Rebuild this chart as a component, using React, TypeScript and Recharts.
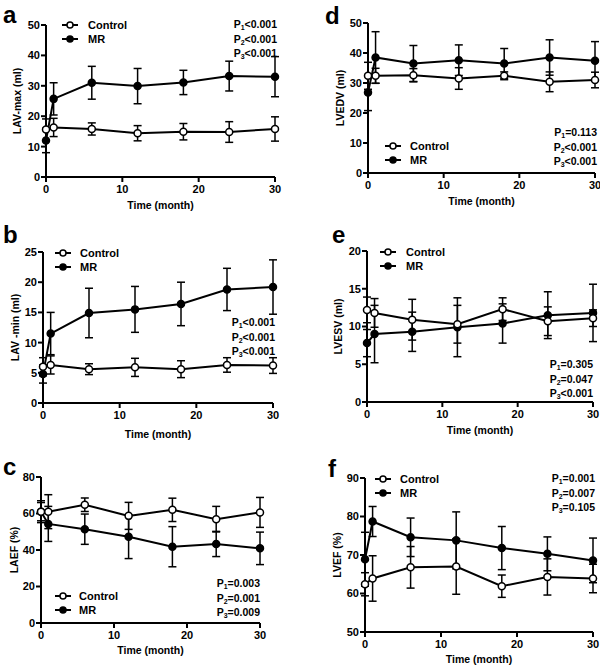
import { LineChart, Line, XAxis, YAxis, ErrorBar } from "recharts";

const MONTHS = [0, 1, 6, 12, 18, 24, 30];

// a: LAV-max
const laMaxCtrl = [15.6, 16.3, 15.8, 14.4, 14.9, 14.8, 15.8];
const laMaxCtrlSd = [3.5, 3.0, 2.0, 2.5, 2.7, 3.4, 4.0];
const laMaxMr = [12.0, 25.7, 31.0, 29.9, 31.1, 33.2, 33.0];
const laMaxMrSd = [4.0, 5.3, 5.4, 5.8, 4.0, 4.9, 6.6];

// b: LAV-min
const laMinCtrl = [6.0, 6.3, 5.6, 5.9, 5.6, 6.3, 6.2];
const laMinCtrlSd = [1.5, 1.5, 0.9, 1.5, 1.4, 1.2, 1.3];
const laMinMr = [4.8, 11.5, 14.9, 15.5, 16.4, 18.8, 19.2];
const laMinMrSd = [1.5, 3.5, 4.1, 3.8, 3.6, 3.5, 4.5];

// c: LAEF
const laefCtrl = [61, 61, 64.8, 58.7, 62, 56.9, 60.6];
const laefCtrlSd = [5, 9.3, 3.7, 7.4, 6.4, 7, 8.2];
const laefMr = [61, 54.3, 51.4, 47.3, 41.8, 43.3, 40.9];
const laefMrSd = [6, 9.6, 8.3, 12, 11, 6.9, 8.9];

// d: LVEDV
const lvedvCtrl = [32.4, 32.4, 32.6, 31.5, 32.4, 30.4, 31.0];
const lvedvCtrlSd = [4.5, 2.5, 2.2, 3.6, 1.3, 3.3, 2.6];
const lvedvMr = [26.8, 38.5, 36.5, 37.6, 36.5, 38.5, 37.4];
const lvedvMrSd = [6, 8.6, 6, 5.1, 5, 5.9, 6.4];

// e: LVESV
const lvesvCtrl = [12.2, 11.8, 10.9, 10.3, 12.3, 10.7, 11.1];
const lvesvCtrlSd = [1.7, 1.9, 2.7, 2.5, 1.5, 1.9, 1.1];
const lvesvMr = [7.8, 9.0, 9.3, 9.9, 10.4, 11.5, 11.8];
const lvesvMrSd = [1.8, 3.8, 2.6, 3.9, 2.6, 3.1, 3.8];

// f: LVEF
const lvefCtrl = [62.4, 63.9, 66.8, 67.0, 61.9, 64.3, 63.9];
const lvefCtrlSd = [3, 5.9, 5.4, 7.2, 2.9, 4.7, 3.7];
const lvefMr = [68.9, 78.7, 74.6, 73.8, 71.8, 70.3, 68.6];
const lvefMrSd = [7, 3.9, 5, 7.4, 5.6, 4.4, 5.8];

const X_TICKS = [0, 10, 20, 30];
const FONT = '"Liberation Sans", Arial, sans-serif';

const build = (c: number[], cs: number[], m: number[], ms: number[]) =>
  MONTHS.map((t, i) => ({ t, ctrl: c[i], ctrlSd: cs[i], mr: m[i], mrSd: ms[i] }));

type Box = { x0: number; x1: number; top: number; bottom: number };

function Panel({
  data,
  box,
  domain,
  ticks,
  yLabel,
  yLabelX,
  xLabelOffset,
}: {
  data: any[];
  box: Box;
  domain: [number, number];
  ticks: number[];
  yLabel: string;
  yLabelX: number;
  xLabelOffset: number;
}) {
  const left = box.x0 - 45;
  const top = box.top - 10;
  const width = box.x1 - box.x0 + 55;
  const height = box.bottom - box.top + 55;
  const tickStyle = { fill: "#000", fontSize: 11, fontWeight: 700, fontFamily: FONT };
  return (
    <div style={{ position: "absolute", left, top }}>
      <LineChart width={width} height={height} data={data} margin={{ top: 10, right: 10, bottom: 0, left: 0 }}>
        <XAxis
          dataKey="t"
          type="number"
          domain={[0, 30]}
          ticks={X_TICKS}
          height={45}
          stroke="#000"
          strokeWidth={2}
          tickSize={5}
          tickMargin={3}
          tick={tickStyle}
          label={{
            value: "Time (month)",
            position: "insideBottom",
            offset: xLabelOffset,
            style: { fill: "#000", fontSize: 10.5, fontWeight: 700, fontFamily: FONT },
          }}
        />
        <YAxis
          type="number"
          domain={domain}
          ticks={ticks}
          width={45}
          stroke="#000"
          strokeWidth={2}
          tickSize={5}
          tickMargin={1}
          tick={tickStyle}
          label={{
            value: yLabel,
            angle: -90,
            position: "insideLeft",
            offset: yLabelX - left,
            style: { textAnchor: "middle", fill: "#000", fontSize: 10.5, fontWeight: 700, fontFamily: FONT },
          }}
        />
        <Line
          dataKey="mr"
          stroke="#000"
          strokeWidth={2}
          dot={{ r: 3.5, fill: "#000", stroke: "#000", strokeWidth: 1.5 }}
          isAnimationActive={false}
        >
          <ErrorBar dataKey="mrSd" direction="y" width={4} stroke="#000" strokeWidth={1.5} />
        </Line>
        <Line
          dataKey="ctrl"
          stroke="#000"
          strokeWidth={2}
          dot={{ r: 3.5, fill: "#fff", stroke: "#000", strokeWidth: 1.5 }}
          isAnimationActive={false}
        >
          <ErrorBar dataKey="ctrlSd" direction="y" width={4} stroke="#000" strokeWidth={1.5} />
        </Line>
      </LineChart>
    </div>
  );
}

function LegendBox({ x, textX, y }: { x: number; textX: number; y: number }) {
  const rows = [
    { name: "Control", fill: "#fff" },
    { name: "MR", fill: "#000" },
  ];
  return (
    <>
      {rows.map((r, i) => (
        <div key={r.name} style={{ position: "absolute", left: x, top: y + i * 13.5 - 7, height: 14 }}>
          <svg width={18} height={14} style={{ position: "absolute", left: 0, top: 0 }}>
            <line x1={0} y1={7} x2={16} y2={7} stroke="#000" strokeWidth={2} />
            <circle cx={8} cy={7} r={3} fill={r.fill} stroke="#000" strokeWidth={1.5} />
          </svg>
          <span
            style={{
              position: "absolute",
              left: textX - x,
              top: 0,
              lineHeight: "14px",
              fontSize: 11,
              fontWeight: 700,
              whiteSpace: "nowrap",
            }}
          >
            {r.name}
          </span>
        </div>
      ))}
    </>
  );
}

function PValues({ right, y, values }: { right: number; y: number; values: string[] }) {
  return (
    <div
      style={{
        position: "absolute",
        left: right - 80,
        width: 80,
        top: y - 7,
        textAlign: "right",
        fontSize: 10.5,
        fontWeight: 700,
        lineHeight: "13.5px",
        whiteSpace: "nowrap",
      }}
    >
      {values.map((v, i) => (
        <div key={i}>
          P<span style={{ fontSize: 7, position: "relative", top: 2 }}>{i + 1}</span>
          {v}
        </div>
      ))}
    </div>
  );
}

// panel letter, y is the baseline
function Letter({ x, y, ch }: { x: number; y: number; ch: string }) {
  return (
    <div
      style={{
        position: "absolute",
        left: x,
        top: y - 18,
        fontSize: 24,
        fontWeight: 700,
        lineHeight: "20px",
      }}
    >
      {ch}
    </div>
  );
}

export default function App() {
  return (
    <div
      style={{
        position: "absolute",
        left: 0,
        top: 0,
        width: 600,
        height: 668,
        background: "#fff",
        overflow: "hidden",
        fontFamily: FONT,
        color: "#000",
      }}
    >
      <Panel
        data={build(laMaxCtrl, laMaxCtrlSd, laMaxMr, laMaxMrSd)}
        box={{ x0: 46, x1: 275, top: 25, bottom: 177 }}
        domain={[0, 50]}
        ticks={[0, 10, 20, 30, 40, 50]}
        yLabel="LAV-max (ml)"
        yLabelX={17}
        xLabelOffset={13}
      />
      <Panel
        data={build(laMinCtrl, laMinCtrlSd, laMinMr, laMinMrSd)}
        box={{ x0: 43, x1: 273, top: 252, bottom: 403 }}
        domain={[0, 25]}
        ticks={[0, 5, 10, 15, 20, 25]}
        yLabel="LAV -min (ml)"
        yLabelX={15}
        xLabelOffset={10}
      />
      <Panel
        data={build(laefCtrl, laefCtrlSd, laefMr, laefMrSd)}
        box={{ x0: 41, x1: 260, top: 477, bottom: 623 }}
        domain={[0, 80]}
        ticks={[0, 20, 40, 60, 80]}
        yLabel="LAEF (%)"
        yLabelX={14}
        xLabelOffset={14}
      />
      <Panel
        data={build(lvedvCtrl, lvedvCtrlSd, lvedvMr, lvedvMrSd)}
        box={{ x0: 368, x1: 595, top: 23, bottom: 173 }}
        domain={[0, 50]}
        ticks={[0, 10, 20, 30, 40, 50]}
        yLabel="LVEDV (ml)"
        yLabelX={340}
        xLabelOffset={13}
      />
      <Panel
        data={build(lvesvCtrl, lvesvCtrlSd, lvesvMr, lvesvMrSd)}
        box={{ x0: 367, x1: 593, top: 251, bottom: 402 }}
        domain={[0, 20]}
        ticks={[0, 5, 10, 15, 20]}
        yLabel="LVESV (ml)"
        yLabelX={338}
        xLabelOffset={13}
      />
      <Panel
        data={build(lvefCtrl, lvefCtrlSd, lvefMr, lvefMrSd)}
        box={{ x0: 365, x1: 593, top: 478, bottom: 632 }}
        domain={[50, 90]}
        ticks={[50, 60, 70, 80, 90]}
        yLabel="LVEF (%)"
        yLabelX={337}
        xLabelOffset={14}
      />

      <LegendBox x={62} textX={88} y={25} />
      <LegendBox x={55} textX={80} y={253} />
      <LegendBox x={55} textX={79} y={596} />
      <LegendBox x={385} textX={410} y={146} />
      <LegendBox x={380} textX={406} y={252} />
      <LegendBox x={375} textX={400} y={479} />

      <PValues right={277} y={25} values={["<0.001", "<0.001", "<0.001"]} />
      <PValues right={275} y={323} values={["<0.001", "<0.001", "<0.001"]} />
      <PValues right={260} y={584} values={["=0.003", "=0.001", "=0.009"]} />
      <PValues right={597} y={133} values={["=0.113", "<0.001", "<0.001"]} />
      <PValues right={593} y={365} values={["=0.305", "=0.047", "<0.001"]} />
      <PValues right={595} y={479} values={["=0.001", "=0.007", "=0.105"]} />

      <Letter x={3} y={23} ch="a" />
      <Letter x={3} y={243} ch="b" />
      <Letter x={3} y={475} ch="c" />
      <Letter x={325} y={24} ch="d" />
      <Letter x={332} y={243} ch="e" />
      <Letter x={328} y={477} ch="f" />
    </div>
  );
}
